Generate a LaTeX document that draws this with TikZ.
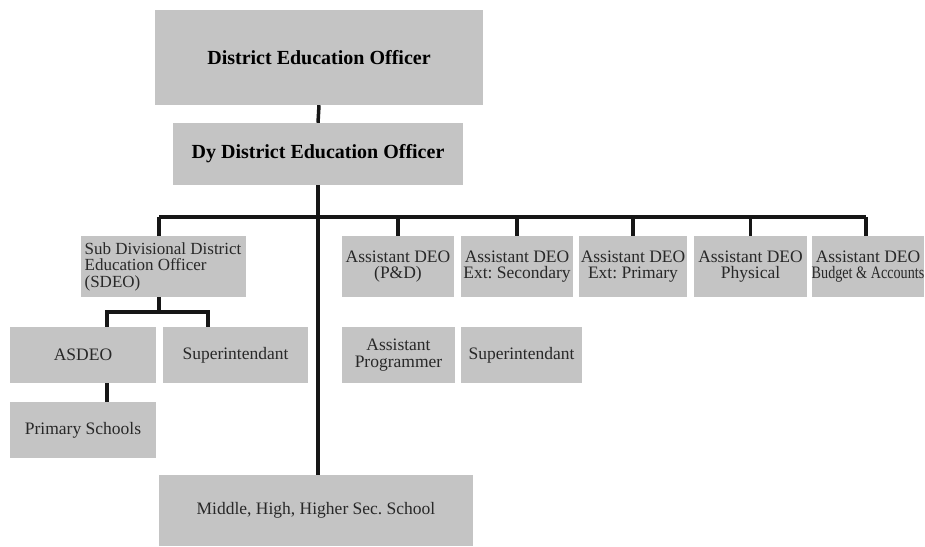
\documentclass[tikz,border=0pt]{standalone}
\usepackage{fontspec}
\setmainfont{Liberation Serif}
\usepackage{graphicx}
\frenchspacing
\definecolor{boxgray}{RGB}{196,196,196}
\definecolor{txtgray}{RGB}{40,40,40}
\definecolor{linkblack}{RGB}{22,22,22}
\begin{document}
\begin{tikzpicture}[x=1pt,y=-1pt,
  box/.style={fill=boxgray, draw=none, inner sep=0pt, align=center,
    text=txtgray, font=\fontsize{17.5}{16.5}\selectfont},
  headbox/.style={box, text=black, font=\fontsize{20}{20}\bfseries\selectfont},
  link/.style={draw=linkblack, line width=3.5pt}]
\fill[white] (0,0) rectangle (925,546);
\useasboundingbox (0,0) rectangle (925,546);

% top of the hierarchy
\node[headbox, minimum width=328pt, minimum height=95pt] (deo) at (319,57.5) {District Education Officer};
\node[headbox, minimum width=290pt, minimum height=62pt] (dy) at (318,154) {Dy District Education Officer};

% second level
\node[box, minimum width=165pt, minimum height=61pt, align=left,
  font=\fontsize{17}{16.5}\selectfont] (sdeo) at (163,266.5)
  {Sub Divisional District\\Education Officer\\(SDEO)};
\node[box, minimum width=112pt, minimum height=61pt] (pd) at (398,266.5) {Assistant DEO\\(P\&D)};
\node[box, minimum width=112pt, minimum height=61pt] (sec) at (517,266.5) {Assistant DEO\\Ext: Secondary};
\node[box, minimum width=108pt, minimum height=61pt] (pri) at (633,266.5) {Assistant DEO\\Ext: Primary};
\node[box, minimum width=113pt, minimum height=61pt] (phy) at (750.5,266.5) {Assistant DEO\\Physical};
\node[box, minimum width=110pt, minimum height=61pt] (bud) at (868,266.5) {Assistant DEO\\\scalebox{0.81}[1]{Budget \& Accounts}};

% third level
\node[box, minimum width=146pt, minimum height=56pt] (asdeo) at (83,355) {ASDEO};
\node[box, minimum width=145pt, minimum height=56pt] (supl) at (235.5,355) {Superintendant};
\node[box, minimum width=113pt, minimum height=56pt] (prog) at (398.5,355) {Assistant\\Programmer};
\node[box, minimum width=121pt, minimum height=56pt] (supr) at (521.5,355) {Superintendant};
\node[box, minimum width=146pt, minimum height=56pt] (prim) at (83,430) {Primary Schools};

% schools
\node[box, minimum width=314pt, minimum height=71pt] (mid) at (316,510.5) {Middle, High, Higher Sec. School};

% junction points
\coordinate (barL) at (159,217);
\coordinate (barR) at (866,217);
\coordinate (sl) at (107,312);
\coordinate (sr) at (208,312);

% connectors
\draw[link] (deo.south) -- (dy.north);
\draw[link] (dy.south) -- (dy.south |- mid.north);
\draw[link] (barL) -- (barR);
\draw[link] (barL) -- (barL |- sdeo.north);
\draw[link] (pd.north) -- (pd.north |- barL);
\draw[link] (sec.north) -- (sec.north |- barL);
\draw[link] (pri.north) -- (pri.north |- barL);
\draw[link] (phy.north) -- (phy.north |- barL);
\draw[link] (barR) -- (barR |- bud.north);
\draw[link] (barL |- sdeo.south) -- (barL |- sl);
\draw[link] (sl |- asdeo.north) -- (sl) -- (sr) -- (sr |- supl.north);
\draw[link] (sl |- asdeo.south) -- (sl |- prim.north);
\end{tikzpicture}
\end{document}
